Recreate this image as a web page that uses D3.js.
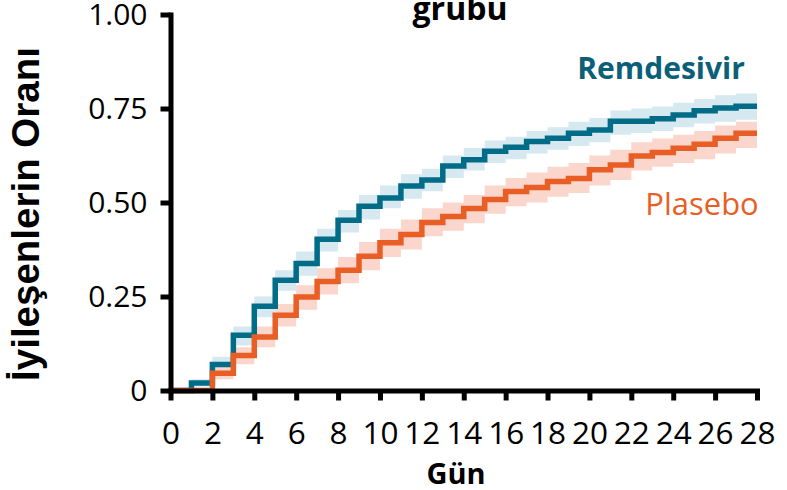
<!DOCTYPE html>
<html><head><meta charset="utf-8">
<script src="https://cdn.jsdelivr.net/npm/d3@7"></script>
<style>html,body{margin:0;padding:0;background:#fff;overflow:hidden}</style>
</head><body>
<svg id="chart" width="787" height="490"></svg>
<script>
const days = d3.range(0, 29);
const xTicks = [0,2,4,6,8,10,12,14,16,18,20,22,24,26,28];
const yTicks = [0, 0.25, 0.5, 0.75, 1];
const yTickLabels = ["0", "0.25", "0.50", "0.75", "1.00"];
const seriesNames = ["Remdesivir", "Plasebo"];

const remdesivir = [0,0.02,0.069,0.147,0.224,0.293,0.338,0.402,0.453,0.49,0.512,0.544,0.56,0.597,0.614,0.636,0.647,0.662,0.671,0.684,0.693,0.716,0.716,0.723,0.733,0.744,0.751,0.756,0.756];
const remUpper = [0,0.03,0.09,0.17,0.25,0.32,0.37,0.43,0.48,0.52,0.545,0.575,0.59,0.625,0.645,0.665,0.675,0.69,0.70,0.715,0.725,0.745,0.75,0.755,0.765,0.775,0.785,0.79,0.79];
const remLower = [0,0.01,0.05,0.12,0.195,0.265,0.305,0.37,0.42,0.455,0.485,0.51,0.53,0.565,0.585,0.605,0.615,0.63,0.64,0.65,0.66,0.68,0.685,0.69,0.70,0.71,0.715,0.72,0.72];

const plasebo = [0,0,0.046,0.093,0.142,0.2,0.249,0.29,0.32,0.357,0.393,0.415,0.447,0.463,0.484,0.508,0.529,0.54,0.556,0.564,0.587,0.6,0.624,0.633,0.644,0.655,0.671,0.684,0.684];
const plaUpper = [0,0,0.065,0.115,0.17,0.23,0.28,0.325,0.355,0.395,0.43,0.455,0.485,0.5,0.52,0.545,0.565,0.58,0.595,0.605,0.625,0.64,0.66,0.67,0.68,0.69,0.705,0.715,0.715];
const plaLower = [0,0,0.03,0.07,0.115,0.17,0.215,0.255,0.285,0.32,0.355,0.375,0.41,0.425,0.445,0.47,0.49,0.5,0.515,0.525,0.545,0.56,0.585,0.595,0.605,0.615,0.63,0.645,0.645];

const FONT = "'Open Sans', sans-serif";
const svg = d3.select("#chart");
const x = d3.scaleLinear().domain([0, 28]).range([170.5, 757]);
const y = d3.scaleLinear().domain([0, 1]).range([390.5, 14.5]);

const series = [
  {name: seriesNames[0], v: remdesivir, lo: remLower, hi: remUpper, line: "#006C87", band: "#D6E9F1", start: 1},
  {name: seriesNames[1], v: plasebo, lo: plaLower, hi: plaUpper, line: "#E95E25", band: "#FAD6CC", start: 2}
];

const area = d3.area().curve(d3.curveStepAfter)
  .x(d => x(d.d)).y0(d => y(d.lo)).y1(d => y(d.hi));
const line = d3.line().curve(d3.curveStepAfter)
  .x(d => x(d.d)).y(d => y(d.v));

series.forEach(s => {
  const pts = days.map((d, i) => ({d, v: s.v[i], lo: s.lo[i], hi: s.hi[i]})).filter(p => p.d >= s.start);
  svg.append("path").attr("d", area(pts)).attr("fill", s.band);
});
series.forEach(s => {
  const pts = days.map((d, i) => ({d, v: s.v[i]}));
  svg.append("path").attr("d", line(pts)).attr("fill", "none")
    .attr("stroke", s.line).attr("stroke-width", 5.5);
});

// axes
const yAxis = svg.append("g").attr("transform", `translate(${x(0)},0)`)
  .call(d3.axisLeft(y).tickValues(yTicks).tickFormat((d, i) => yTickLabels[i]).tickSize(10).tickSizeOuter(0).tickPadding(13));
const xAxis = svg.append("g").attr("transform", `translate(0,${y(0)})`)
  .call(d3.axisBottom(x).tickValues(xTicks).tickFormat(d3.format("d")).tickSize(10).tickSizeOuter(0).tickPadding(21));
[yAxis, xAxis].forEach(g => {
  g.select(".domain").attr("stroke", "#000").attr("stroke-width", 5).attr("stroke-linecap", "square");
  g.selectAll(".tick line").attr("stroke", "#000").attr("stroke-width", 5);
  g.selectAll(".tick text").attr("fill", "#000").style("font-family", FONT);
});
yAxis.selectAll(".tick text").style("font-size", "30px");
xAxis.selectAll(".tick text").style("font-size", "31.5px");

// labels
svg.append("text").text("grubu").attr("x", 460).attr("y", 20).attr("text-anchor", "middle")
  .style("font-family", FONT).style("font-weight", "bold").style("font-size", "32px").attr("fill", "#000");
svg.append("text").text("Gün").attr("x", 456).attr("y", 484).attr("text-anchor", "middle")
  .style("font-family", FONT).style("font-weight", "bold").style("font-size", "29px").attr("fill", "#000");
svg.append("text").text("İyileşenlerin Oranı").attr("transform", "translate(38.5,214) rotate(-90)").attr("text-anchor", "middle")
  .style("font-family", "'Liberation Sans', Arial, sans-serif").style("font-weight", "bold").style("font-size", "38.5px").attr("fill", "#000");
svg.append("text").text(seriesNames[0]).attr("x", 661).attr("y", 79).attr("text-anchor", "middle")
  .style("font-family", FONT).style("font-weight", "bold").style("font-size", "30px").attr("fill", "#0B5F79");
svg.append("text").text(seriesNames[1]).attr("x", 702).attr("y", 215).attr("text-anchor", "middle")
  .style("font-family", FONT).style("font-size", "31px").attr("fill", "#E95E25");
</script>
</body></html>
